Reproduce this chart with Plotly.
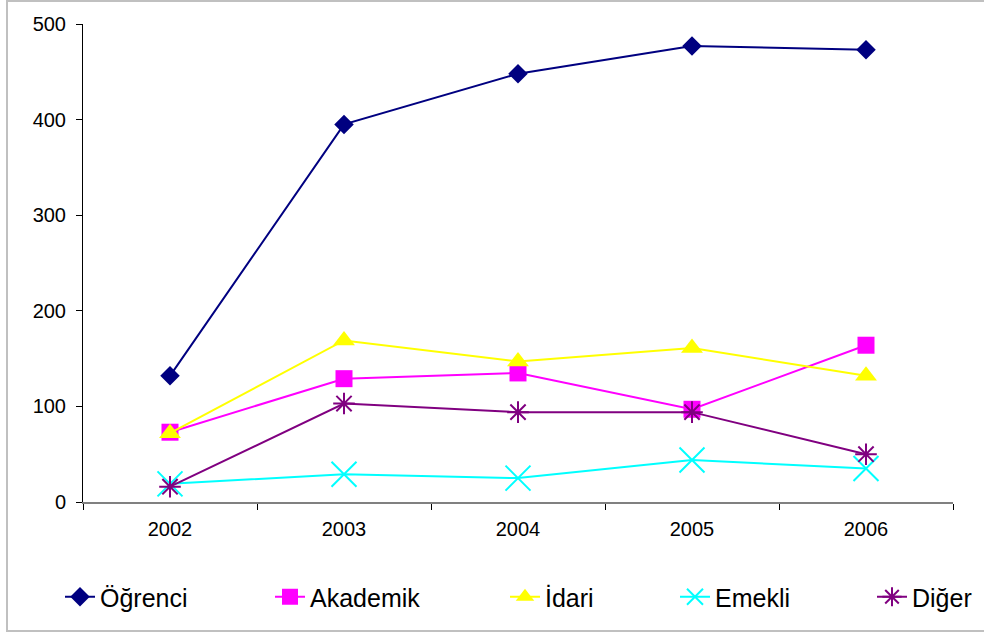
import plotly.graph_objects as go

years = ["2002", "2003", "2004", "2005", "2006"]
ogrenci = [132, 395, 448, 477, 473]
akademik = [73, 129, 135, 97, 164]
idari = [72, 169, 147, 161, 132]
emekli = [19, 29, 25, 44, 35]
diger = [16, 103, 94, 94, 50]

y_ticks = [0, 100, 200, 300, 400, 500]

W, H = 984, 633
L, R, T, B = 83, 31, 24, 131
PW, PH = W - L - R, H - T - B

def px_to_paper_x(px):
    return (px - L) / PW

def px_to_paper_y(py):
    return (H - B - py) / PH

FONT = "Liberation Sans, Arial, sans-serif"

series = [
    ("Öğrenci", ogrenci, "#000080", "diamond", 15, 0),
    ("Akademik", akademik, "#FF00FF", "square", 17, 0),
    ("İdari", idari, "#FFFF00", "triangle-up", 19, 0),
    ("Emekli", emekli, "#00FFFF", "x-thin-open", 25, 2),
    ("Diğer", diger, "#800080", "asterisk-open", 18, 2),
]

legend_text_px = [100, 310, 545, 715, 912]

fig = go.Figure()
for i, (name, vals, color, sym, size, lw) in enumerate(series):
    marker = dict(symbol=sym, size=size, color=color)
    if lw:
        marker["line"] = dict(color=color, width=lw)
    else:
        marker["line"] = dict(width=0)
    fig.add_trace(go.Scatter(
        x=years, y=vals, name=name, mode="lines+markers",
        line=dict(color=color, width=2), marker=marker,
        legend="legend" if i == 0 else f"legend{i+1}",
    ))

layout_legends = {}
for i, tx in enumerate(legend_text_px):
    key = "legend" if i == 0 else f"legend{i+1}"
    layout_legends[key] = dict(
        x=px_to_paper_x(tx - 40), xanchor="left",
        y=px_to_paper_y(597), yanchor="middle",
        orientation="h", bgcolor="rgba(0,0,0,0)",
        font=dict(family=FONT, size=25, color="#000000"),
    )

fig.update_layout(
    width=W, height=H,
    margin=dict(l=L, r=R, t=T, b=B, autoexpand=False),
    paper_bgcolor="white", plot_bgcolor="white",
    showlegend=True,
    font=dict(family=FONT, size=20, color="#000000"),
    xaxis=dict(
        type="category", range=[-0.5, 4.5], tickson="boundaries",
        showline=True, linecolor="#808080", linewidth=2,
        ticks="outside", ticklen=6, tickcolor="#000000", tickwidth=1,
        showgrid=False, zeroline=False,
        tickfont=dict(family=FONT, size=20, color="#000000"),
        ticklabelstandoff=8,
    ),
    yaxis=dict(
        range=[0, 500], tickvals=y_ticks,
        showline=True, linecolor="#000000", linewidth=1,
        ticks="outside", ticklen=6, tickcolor="#000000", tickwidth=1,
        showgrid=False, zeroline=False,
        tickfont=dict(family=FONT, size=20, color="#000000"),
        ticklabelstandoff=6,
    ),
    shapes=[dict(
        type="rect", xref="paper", yref="paper",
        x0=px_to_paper_x(7), x1=px_to_paper_x(992),
        y0=px_to_paper_y(631), y1=px_to_paper_y(1),
        line=dict(color="#c0c0c0", width=2), fillcolor="rgba(0,0,0,0)",
        layer="below",
    )],
    **layout_legends,
)

fig.write_html(
    "out.html",
    config={"displayModeBar": False},
    post_script="document.body.style.margin='0';document.body.style.padding='0';",
)
